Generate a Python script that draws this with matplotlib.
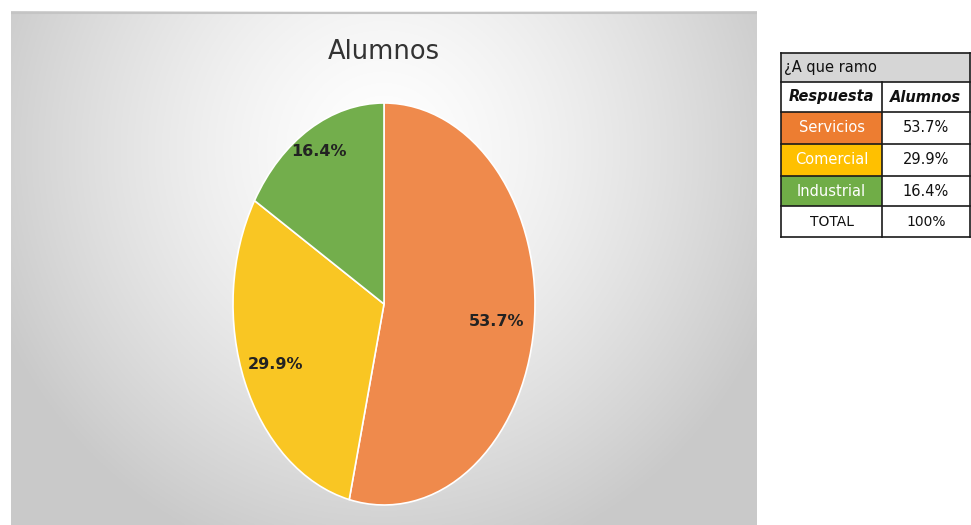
import numpy as np
import matplotlib
matplotlib.use("Agg")
import matplotlib.pyplot as plt
from matplotlib.patches import Rectangle
from matplotlib import font_manager

categories = ["Servicios", "Comercial", "Industrial"]
values = [53.7, 29.9, 16.4]
value_labels = ["53.7%", "29.9%", "16.4%"]
total_label = "100%"
title = "Alumnos"
table_title = "¿A que ramo"
table_headers = ["Respuesta", "Alumnos"]

pie_colors = ["#EF8A4C", "#F9C623", "#73AE4C"]
cell_colors = ["#ED7D31", "#FFC000", "#70AD47"]

avail = {f.name for f in font_manager.fontManager.ttflist}
fam = "Liberation Sans Narrow" if "Liberation Sans Narrow" in avail else "DejaVu Sans"
plt.rcParams['font.family'] = [fam, "DejaVu Sans"]

W, H = 971, 525
fig = plt.figure(figsize=(W / 100, H / 100), dpi=100)
fig.patch.set_facecolor("white")

def px_axes(x0, y0, x1, y1, **kw):
    return fig.add_axes([x0 / W, 1 - y1 / H, (x1 - x0) / W, (y1 - y0) / H], **kw)

# background panel with radial gradient
bx0, by0, bx1, by1 = 11, 11, 757, 525
bg = px_axes(bx0, by0, bx1, by1)
gx = np.linspace(bx0, bx1, 400)
gy = np.linspace(by0, by1, 300)
X, Y = np.meshgrid(gx, gy)
d = np.sqrt(((X - 384) / 420) ** 2 + ((Y - 150) / 430) ** 2)
d = np.clip(d, 0, 1)
val = 1.0 - 0.21 * d ** 1.4
img = np.dstack([val, val, val])
bg.imshow(img, extent=[0, 1, 0, 1], aspect="auto", origin="upper")
bg.set_xlim(0, 1); bg.set_ylim(0, 1)
bg.axis("off")
bg.plot([0, 1], [0.997, 0.997], color="#c4c4c4", lw=1.5)

# pie
pax = px_axes(233, 103, 535, 505)
wedges, _ = pax.pie(values, colors=pie_colors, startangle=90, counterclock=False,
                    wedgeprops=dict(edgecolor="white", linewidth=1.2), radius=1)
pax.set_aspect("auto")
pax.set_xlim(-1, 1); pax.set_ylim(-1, 1)
pax.axis("off")
label_r = [0.75, 0.78, 0.87]
for w, lab, r in zip(wedges, value_labels, label_r):
    ang = np.deg2rad((w.theta1 + w.theta2) / 2)
    pax.text(r * np.cos(ang), r * np.sin(ang), lab, ha="center", va="center",
             fontsize=11.5, fontweight="bold", color="#222222")

fig.text(384 / W, 1 - 52 / H, title, ha="center", va="center", fontsize=18.5, color="#333333")

# table overlay
tax = px_axes(0, 0, W, H)
tax.set_xlim(0, W); tax.set_ylim(H, 0)
tax.axis("off")
tx0, tx1, tdiv = 781, 970, 882
rows = [53, 82, 112, 144, 176, 206, 237]
tax.add_patch(Rectangle((tx0, rows[0]), tx1 - tx0, rows[1] - rows[0], facecolor="#d6d6d6", edgecolor="none"))
for i, c in enumerate(cell_colors):
    tax.add_patch(Rectangle((tx0, rows[2 + i]), tdiv - tx0, rows[3 + i] - rows[2 + i], facecolor=c, edgecolor="none"))
lc = "#1a1a1a"
for y in rows:
    tax.plot([tx0, tx1], [y, y], color=lc, lw=1.2)
tax.plot([tx0, tx0], [rows[0], rows[-1]], color=lc, lw=1.2)
tax.plot([tx1, tx1], [rows[0], rows[-1]], color=lc, lw=1.2)
tax.plot([tdiv, tdiv], [rows[1], rows[-1]], color=lc, lw=1.2)
tax.text(tx0 + 3, (rows[0] + rows[1]) / 2, table_title, ha="left", va="center", fontsize=10.5, color="#111111")
c1 = (tx0 + tdiv) / 2
c2 = (tdiv + tx1) / 2
tax.text(c1, (rows[1] + rows[2]) / 2, table_headers[0], ha="center", va="center", fontsize=10.5,
         fontweight="bold", style="italic", color="#111111")
tax.text(c2, (rows[1] + rows[2]) / 2, table_headers[1], ha="center", va="center", fontsize=10.5,
         fontweight="bold", style="italic", color="#111111")
for i, (cat, lab) in enumerate(zip(categories, value_labels)):
    ym = (rows[2 + i] + rows[3 + i]) / 2
    tax.text(c1, ym, cat, ha="center", va="center", fontsize=10.5, color="white")
    tax.text(c2, ym, lab, ha="center", va="center", fontsize=10.5, color="#111111")
ym = (rows[5] + rows[6]) / 2
tax.text(c1, ym, "TOTAL", ha="center", va="center", fontsize=10, color="#111111")
tax.text(c2, ym, total_label, ha="center", va="center", fontsize=10, color="#111111")

fig.savefig("out.png", dpi=100)
